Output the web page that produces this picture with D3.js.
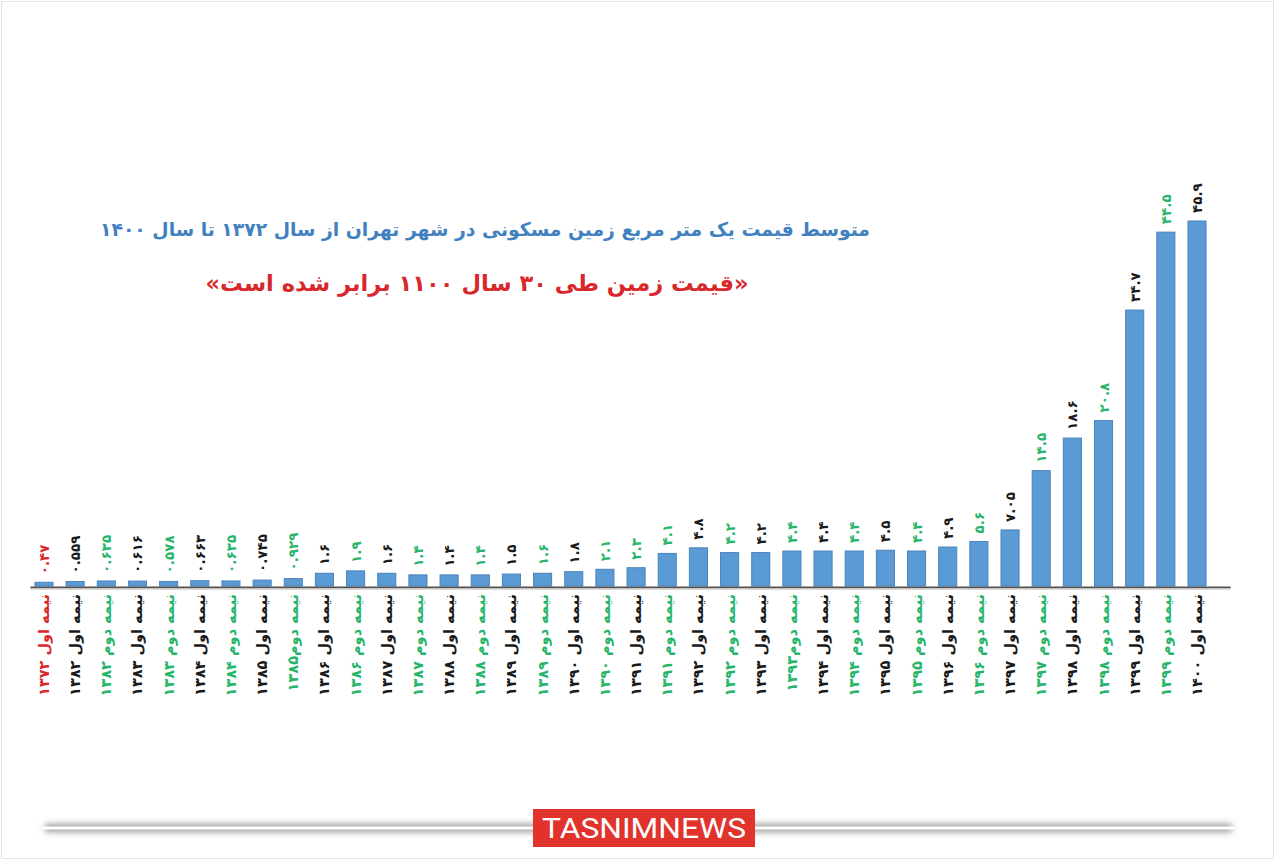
<!DOCTYPE html>
<html><head><meta charset="utf-8">
<script src="https://cdn.jsdelivr.net/npm/d3@7/dist/d3.min.js"></script>
<style>
html,body{margin:0;padding:0;background:#fff;}
svg{display:block;}
</style></head>
<body>
<svg id="chart" width="1276" height="861"></svg>
<script>
const categories = [
 "نیمه اول ۱۳۷۲","نیمه اول ۱۳۸۲","نیمه دوم ۱۳۸۲","نیمه اول ۱۳۸۳","نیمه دوم ۱۳۸۳",
 "نیمه اول ۱۳۸۴","نیمه دوم ۱۳۸۴","نیمه اول ۱۳۸۵","نیمه دوم۱۳۸۵","نیمه اول ۱۳۸۶",
 "نیمه دوم ۱۳۸۶","نیمه اول ۱۳۸۷","نیمه دوم ۱۳۸۷","نیمه اول ۱۳۸۸","نیمه دوم ۱۳۸۸",
 "نیمه اول ۱۳۸۹","نیمه دوم ۱۳۸۹","نیمه اول ۱۳۹۰","نیمه دوم ۱۳۹۰","نیمه اول ۱۳۹۱",
 "نیمه دوم ۱۳۹۱","نیمه اول ۱۳۹۲","نیمه دوم ۱۳۹۲","نیمه اول ۱۳۹۳","نیمه دوم۱۳۹۳",
 "نیمه اول ۱۳۹۴","نیمه دوم ۱۳۹۴","نیمه اول ۱۳۹۵","نیمه دوم ۱۳۹۵","نیمه اول ۱۳۹۶",
 "نیمه دوم ۱۳۹۶","نیمه اول ۱۳۹۷","نیمه دوم ۱۳۹۷","نیمه اول ۱۳۹۸","نیمه دوم ۱۳۹۸",
 "نیمه اول ۱۳۹۹","نیمه دوم ۱۳۹۹","نیمه اول ۱۴۰۰"
];
const values = [
 0.47,0.559,0.635,0.616,0.578,0.663,0.635,0.745,0.929,1.6,
 1.9,1.6,1.4,1.4,1.4,1.5,1.6,1.8,2.1,2.3,
 4.1,4.8,4.2,4.2,4.4,4.4,4.4,4.5,4.4,4.9,
 5.6,7.05,14.5,18.6,20.8,34.7,44.5,45.9
];
const valueLabels = [
 "۰.۴۷","۰.۵۵۹","۰.۶۳۵","۰.۶۱۶","۰.۵۷۸","۰.۶۶۳","۰.۶۳۵","۰.۷۴۵","۰.۹۲۹","۱.۶",
 "۱.۹","۱.۶","۱.۴","۱.۴","۱.۴","۱.۵","۱.۶","۱.۸","۲.۱","۲.۳",
 "۴.۱","۴.۸","۴.۲","۴.۲","۴.۴","۴.۴","۴.۴","۴.۵","۴.۴","۴.۹",
 "۵.۶","۷.۰۵","۱۴.۵","۱۸.۶","۲۰.۸","۳۴.۷","۴۴.۵","۴۵.۹"
];
// label colour group: r = red, k = black, g = green
const valueColorGroup = [
 "r","k","g","k","g","k","g","k","g","k",
 "g","k","g","k","g","k","g","k","g","g",
 "g","k","g","k","g","k","g","k","g","k",
 "g","k","g","k","g","k","g","k"
];
const categoryColorGroup = categories.map((c,i)=> i===0 ? "r" : (c.indexOf("اول")>=0 ? "k" : "g"));
const title = "متوسط قیمت یک متر مربع زمین مسکونی در شهر تهران از سال ۱۳۷۲ تا سال ۱۴۰۰";
const subtitle = "«قیمت زمین طی ۳۰ سال ۱۱۰۰ برابر شده است»";
const brand = "TASNIMNEWS";

const colors = {r:"#d8282c", k:"#1a1a1a", g:"#27b56b"};
const font = "'DejaVu Sans', 'Noto Sans', sans-serif";

const svg = d3.select("#chart");

svg.append("rect").attr("x",1.5).attr("y",1.5).attr("width",1272).attr("height",857)
  .attr("fill","none").attr("stroke","#e4e4e4").attr("stroke-width",1);

const x = d3.scaleBand().domain(d3.range(categories.length)).range([28.4,1212.6]).paddingInner(0.42).paddingOuter(0.21);
const y = d3.scaleLinear().domain([0,45.9]).range([586,221]);

// bars
svg.append("g").selectAll("rect").data(values).join("rect")
  .attr("x",(d,i)=>x(i)).attr("width",x.bandwidth())
  .attr("y",d=>y(d)).attr("height",d=>y(0)-y(d))
  .attr("fill","#5b9bd5").attr("stroke","#4a82ba").attr("stroke-width",1);

// axis
const axisG = svg.append("g").attr("transform",`translate(0,${y(0)+1})`);
axisG.call(d3.axisBottom(d3.scaleLinear().domain([0,1]).range([30,1230])).ticks(0).tickSize(0).tickFormat(""));
axisG.select(".domain").attr("stroke","#505050").attr("stroke-width",2);
svg.append("line").attr("x1",30).attr("x2",1230).attr("y1",y(0)+3).attr("y2",y(0)+3)
  .attr("stroke","#cfcfcf").attr("stroke-width",1.5);

// value labels (rotated)
svg.append("g").selectAll("text").data(values).join("text")
  .attr("transform",(d,i)=>`translate(${x(i)+x.bandwidth()/2+5},${y(d)-8}) rotate(-90)`)
  .attr("text-anchor","start")
  .attr("font-family",font).attr("font-weight","bold").attr("font-size",13.5)
  .attr("fill",(d,i)=>colors[valueColorGroup[i]])
  .text((d,i)=>valueLabels[i]);

// category labels (rotated)
svg.append("g").selectAll("text").data(categories).join("text")
  .attr("transform",(d,i)=>`translate(${x(i)+x.bandwidth()/2+5},${594}) rotate(-90)`)
  .attr("text-anchor","end")
  .attr("font-family",font).attr("font-weight","bold").attr("font-size",14.5)
  .attr("fill",(d,i)=>colors[categoryColorGroup[i]])
  .text(d=>d);

// titles
svg.append("text").attr("x",485).attr("y",236).attr("text-anchor","middle")
  .attr("direction","rtl")
  .attr("font-family",font).attr("font-weight","bold").attr("font-size",19)
  .attr("fill","#4181bf").attr("textLength",770).attr("lengthAdjust","spacingAndGlyphs").text(title);
svg.append("text").attr("x",477).attr("y",291).attr("text-anchor","middle")
  .attr("direction","rtl")
  .attr("font-family",font).attr("font-weight","bold").attr("font-size",22.5)
  .attr("fill","#d8282c").attr("textLength",543).attr("lengthAdjust","spacingAndGlyphs").text(subtitle);

// footer
const defs = svg.append("defs");
const f = defs.append("filter").attr("id","sh").attr("filterUnits","userSpaceOnUse")
  .attr("x",0).attr("y",790).attr("width",1276).attr("height",71);
f.append("feGaussianBlur").attr("stdDeviation",3);
svg.append("rect").attr("x",45).attr("y",824).attr("width",1187).attr("height",8)
  .attr("fill","#9a9a9a").attr("filter","url(#sh)");
svg.append("rect").attr("x",42).attr("y",826.5).attr("width",1193).attr("height",3)
  .attr("fill","#ffffff");
svg.append("rect").attr("x",533).attr("y",809).attr("width",222).attr("height",38).attr("fill","#e2322c");
svg.append("text").attr("x",644).attr("y",838).attr("text-anchor","middle")
  .attr("font-family","'Liberation Sans Narrow','Roboto',sans-serif").attr("font-size",27)
  .attr("fill","#fff").attr("textLength",204).attr("lengthAdjust","spacingAndGlyphs").text(brand);
</script>
</body></html>
